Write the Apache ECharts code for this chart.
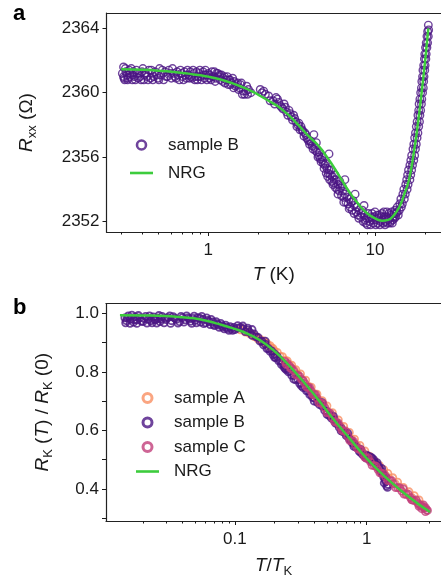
<!DOCTYPE html>
<html><head><meta charset="utf-8">
<script src="https://cdn.jsdelivr.net/npm/echarts@6/dist/echarts.min.js"></script>
<style>html,body{margin:0;padding:0;background:#fff}#c{width:441px;height:579px}</style>
</head><body><div id="c"></div>
<script>
// ---------- data (panel a) ----------
const topSampleB = [
[0.31,2361.6],[0.31,2361.0],[0.315,2360.8],[0.32,2361.3],[0.325,2361.1],[0.33,2360.9],[0.335,2361.4],[0.34,2361.2],[0.35,2360.8],[0.355,2361.3],
[0.36,2361.0],[0.37,2361.4],[0.38,2360.9],[0.385,2361.2],[0.39,2361.0],[0.4,2361.3],[0.41,2360.8],[0.42,2361.2],[0.43,2361.0],[0.44,2361.4],
[0.45,2360.9],[0.46,2361.2],[0.47,2361.0],[0.48,2361.3],[0.5,2360.9],[0.51,2361.5],[0.52,2361.1],[0.54,2360.8],[0.55,2361.3],[0.57,2361.0],
[0.58,2361.4],[0.6,2360.9],[0.62,2361.2],[0.63,2361.0],[0.65,2361.3],[0.67,2360.8],[0.69,2361.2],[0.7,2361.0],[0.72,2361.3],[0.74,2360.9],
[0.76,2361.1],[0.78,2361.3],[0.8,2360.9],[0.82,2361.2],[0.84,2361.0],[0.86,2360.8],[0.88,2361.2],[0.9,2361.0],[0.93,2361.3],[0.95,2360.9],
[0.97,2361.1],[1.0,2361.2],[1.02,2360.9],[1.05,2361.3],[1.08,2361.0],[1.1,2360.7],[1.12,2361.2],[1.15,2361.0],[1.18,2360.8],[1.2,2361.1],
[1.23,2360.9],[1.26,2360.6],[1.3,2361.0],[1.33,2360.8],[1.36,2360.5],[1.4,2360.9],[1.43,2360.7],[1.46,2360.4],[1.5,2360.6],[1.54,2360.3],
[1.58,2360.6],[1.62,2360.1],[1.65,2359.9],[1.7,2360.4],[1.74,2360.2],[1.8,2360.0],[2.05,2360.2],[2.15,2360.1],[2.3,2359.8],[2.45,2359.5],
[2.55,2359.7],[2.65,2359.4],[2.75,2359.1],[2.85,2359.3],[2.95,2358.8],[3.05,2358.9],[3.15,2358.5],[3.25,2358.6],[3.35,2358.2],[3.45,2358.0],
[3.6,2357.9],[3.7,2357.6],[3.85,2357.4],[3.95,2357.1],[4.1,2357.0],[4.3,2357.4],[4.2,2356.7],[4.35,2356.6],[4.5,2356.3],[4.6,2356.1],
[4.7,2355.9],[4.8,2356.0],[4.9,2355.6],[5.0,2355.5],[5.15,2355.3],[5.3,2356.2],[5.3,2355.2],[5.4,2354.9],[5.55,2354.8],[5.7,2354.6],
[5.85,2354.6],[6.0,2354.3],[6.2,2354.1],[6.4,2353.9],[6.6,2354.6],[6.6,2353.7],[6.8,2353.5],[7.0,2353.4],[7.2,2353.2],[7.5,2353.0],
[7.6,2353.7],[7.8,2352.9],[8.0,2352.7],[8.3,2352.5],[8.6,2353.0],[8.6,2352.4],[8.9,2352.2],[5.2,2354.8],[5.6,2354.3],[6.0,2353.7],
[6.5,2353.2],[7.0,2352.8],[7.5,2352.5],[8.0,2352.2],[8.5,2352.0],[9.0,2351.8],[9.1,2352.5],[9.3,2352.0],[9.5,2352.3],[9.8,2351.9],
[10.0,2352.6],[10.2,2352.1],[10.4,2351.9],[10.6,2352.4],[10.8,2352.0],[11.0,2352.5],[11.2,2351.9],[11.4,2352.3],[11.6,2352.0],[11.8,2352.6],
[12.0,2352.1],[12.3,2351.9],[12.5,2352.4],[12.8,2352.1],[13.0,2352.5],[13.3,2352.3],[13.6,2352.6],[13.6,2352.9],[14.4,2352.9],[14.3,2353.4],
[15.0,2353.4],[14.9,2354.0],[15.6,2354.0],[15.5,2354.6],[16.2,2354.6],[15.9,2355.2],[16.6,2355.2],[16.4,2355.8],[17.1,2355.8],[16.9,2356.5],
[17.5,2356.5],[17.3,2357.2],[17.9,2357.2],[17.7,2357.9],[18.3,2357.9],[18.1,2358.6],[18.6,2358.6],[18.4,2359.3],[19.0,2359.3],[18.8,2360.0],
[19.3,2360.0],[19.1,2360.7],[19.6,2360.7],[19.4,2361.4],[19.9,2361.4],[19.8,2362.1],[20.2,2362.1],[20.1,2362.8],[20.5,2362.8],[20.5,2363.5],
[20.9,2363.5],[20.9,2364.2],
[0.305,2361.2],[0.312,2360.9],[0.318,2361.5],[0.328,2360.8],[0.338,2361.0],[0.345,2361.5],[0.352,2361.1],[0.365,2360.8],[0.375,2361.2],[0.395,2360.8],
[0.405,2361.5],[0.415,2361.1],[0.435,2360.8],[0.455,2361.4],[0.465,2360.8],[0.49,2361.1],[0.505,2360.8],[0.53,2361.4],[0.56,2361.0],[0.59,2361.2],
[0.61,2361.5],[0.64,2360.9],[0.66,2361.1],[0.68,2361.4],[0.71,2360.8],[0.73,2361.1],[0.75,2361.4],[0.77,2360.9],[0.79,2361.0],[0.81,2361.4],
[0.83,2360.8],[0.85,2361.3],[0.87,2361.0],[0.89,2361.4],[0.91,2360.8],[0.94,2361.1],[0.96,2361.4],[0.98,2360.8],[1.01,2361.1],[1.04,2360.8],
[1.06,2361.0],[1.09,2361.3],[1.11,2360.9],[1.14,2361.2],[1.17,2361.1],[1.22,2360.7],[1.25,2361.0],[1.28,2360.8],[1.32,2360.5],[1.35,2360.8],
[1.38,2360.6],[1.42,2360.3],[1.48,2360.5],[1.52,2360.2],[1.56,2360.5],[1.6,2359.9],[1.68,2360.1],[1.72,2359.9],
[2.1,2360.0],[2.2,2359.9],[2.35,2359.5],[2.5,2359.3],[2.6,2359.6],[2.7,2359.2],[2.8,2359.0],[2.9,2359.1],[3.0,2358.6],[3.1,2358.7],
[3.2,2358.3],[3.3,2358.4],[3.4,2357.9],[3.5,2358.1],[3.55,2357.7],[3.65,2357.7],[3.75,2357.3],[3.8,2357.5],[3.9,2357.2],[4.0,2357.0],
[4.05,2356.8],[4.15,2356.9],[4.25,2356.5],[4.4,2356.4],[4.45,2356.9],[4.55,2356.0],[4.65,2356.3],[4.75,2355.7],[4.85,2355.8],[4.95,2355.3],
[5.05,2355.6],[5.1,2355.0],[5.25,2355.0],[5.35,2354.6],[5.45,2355.2],[5.5,2354.5],[5.65,2354.4],[5.75,2354.9],[5.8,2354.1],[5.95,2354.0],
[6.1,2353.9],[6.15,2354.5],[6.3,2353.6],[6.35,2354.2],[6.5,2353.5],[6.7,2353.2],[6.9,2353.1],[7.1,2352.9],[7.3,2352.7],[7.4,2353.3],
[7.7,2352.6],[7.9,2352.4],[8.2,2352.3],[8.4,2352.7],[8.7,2352.1],[8.8,2351.9],
[9.2,2352.2],[9.4,2351.8],[9.6,2352.5],[9.7,2352.1],[9.9,2352.3],[10.1,2351.8],[10.3,2352.4],[10.5,2352.2],[10.7,2351.8],[10.9,2352.3],
[11.1,2352.1],[11.3,2352.6],[11.5,2351.8],[11.7,2352.3],[11.9,2351.9],[12.1,2352.5],[12.2,2352.2],[12.4,2352.0],[12.6,2352.6],[12.7,2351.9],
[12.9,2352.3],[13.1,2352.2],[13.2,2352.7],[13.4,2352.5],[13.8,2352.4],[14.0,2352.7],[14.1,2353.1],
[14.6,2353.1],[14.7,2353.7],[15.2,2353.7],[15.3,2354.3],[15.8,2354.3],[15.7,2354.9],[16.4,2354.9],[16.2,2355.5],[16.8,2355.5],[16.6,2356.1],
[17.3,2356.1],[17.1,2356.8],[17.7,2356.8],[17.5,2357.5],[18.1,2357.5],[17.9,2358.2],[18.5,2358.2],[18.3,2358.9],[18.8,2358.9],[18.6,2359.6],
[19.1,2359.6],[19.0,2360.3],[19.5,2360.3],[19.3,2361.0],[19.7,2361.0],[19.6,2361.7],[20.0,2361.7],[19.9,2362.4],[20.3,2362.4],[20.3,2363.1],
[20.7,2363.1],[20.7,2363.8],[21.0,2363.9]
];
const topNRG = [
[0.3,2361.45],[0.4,2361.42],[0.5,2361.37],[0.6,2361.3],[0.7,2361.23],[0.8,2361.15],[0.9,2361.08],[1.0,2361.0],[1.2,2360.8],[1.4,2360.58],
[1.6,2360.35],[1.8,2360.12],[2.0,2359.87],[2.3,2359.5],[2.6,2359.17],[3.0,2358.65],[3.5,2357.95],[4.0,2357.3],[4.5,2356.8],[5.0,2356.2],
[5.6,2355.45],[6.3,2354.6],[7.0,2353.85],[8.0,2353.05],[9.0,2352.5],[10,2352.2],[11,2352.05],[12,2352.1],[13,2352.4],[14,2352.9],
[15,2353.7],[16,2354.6],[17,2356.1],[18,2357.9],[19,2359.9],[20,2362.0],[20.9,2364.0]
];
const topXMajor = [1, 10];
const topXLabels = ['1', '10'];
const topXMinor = [0.3,0.4,0.5,0.6,0.7,0.8,0.9,2,3,4,5,6,7,8,9,20];
const topYTicks = [2352, 2356, 2360, 2364];

// ---------- data (panel b) ----------
const botSampleA = [
[0.11,0.944],[0.12,0.936],[0.13,0.930],[0.14,0.921],[0.15,0.912],[0.16,0.903],[0.17,0.897],[0.18,0.888],[0.19,0.880],[0.2,0.871],
[0.22,0.854],[0.24,0.840],[0.26,0.824],[0.28,0.808],[0.3,0.793],[0.33,0.771],[0.36,0.751],[0.4,0.726],[0.44,0.702],[0.48,0.682],
[0.53,0.657],[0.58,0.636],[0.64,0.612],[0.7,0.590],[0.77,0.570],[0.85,0.547],[0.93,0.527],[1.0,0.510],[1.1,0.492],[1.2,0.475],
[1.3,0.459],[1.4,0.446],[1.5,0.434],[1.65,0.418],[1.8,0.402],[2.0,0.385],[2.2,0.371],[2.4,0.357],[2.6,0.346],
[0.115,0.947],[0.125,0.937],[0.135,0.929],[0.145,0.921],[0.155,0.912],[0.165,0.906],[0.175,0.898],[0.185,0.890],[0.195,0.880],[0.21,0.867],
[0.23,0.852],[0.25,0.838],[0.27,0.823],[0.29,0.808],[0.315,0.793],[0.345,0.772],[0.38,0.748],[0.42,0.724],[0.46,0.702],[0.5,0.684],
[0.55,0.661],[0.61,0.636],[0.67,0.614],[0.74,0.593],[0.81,0.570],[0.89,0.549],[0.97,0.530],[1.05,0.512],[1.15,0.495],[1.25,0.480],
[1.35,0.466],[1.45,0.453],[1.58,0.438],[1.72,0.423],[1.9,0.405],[2.1,0.390],[2.3,0.377],[2.5,0.362]
];
const botSampleB = [
[0.0146,0.985],[0.015,0.975],[0.0155,0.992],[0.016,0.980],[0.017,0.970],[0.0175,0.988],[0.018,0.978],[0.019,0.985],[0.02,0.972],[0.021,0.990],
[0.022,0.980],[0.023,0.975],[0.024,0.988],[0.025,0.978],[0.026,0.984],[0.027,0.972],[0.028,0.990],[0.03,0.979],[0.031,0.986],[0.033,0.975],
[0.034,0.989],[0.036,0.980],[0.038,0.972],[0.04,0.986],[0.042,0.978],[0.044,0.985],[0.046,0.973],[0.048,0.983],[0.05,0.976],[0.052,0.986],
[0.055,0.970],[0.057,0.980],[0.06,0.968],[0.062,0.976],[0.065,0.962],[0.068,0.971],[0.07,0.958],[0.073,0.965],[0.076,0.952],[0.08,0.958],
[0.083,0.947],[0.086,0.953],[0.09,0.942],[0.094,0.948],[0.1,0.945],[0.105,0.950],[0.11,0.952],[0.115,0.948],[0.12,0.938],[0.125,0.944],
[0.13,0.935],[0.14,0.930],[0.15,0.918],[0.16,0.905],[0.17,0.895],[0.18,0.880],[0.19,0.872],[0.2,0.862],[0.21,0.852],[0.22,0.840],
[0.23,0.830],[0.24,0.822],[0.25,0.812],[0.26,0.803],[0.28,0.788],[0.3,0.775],[0.32,0.762],[0.34,0.748],[0.36,0.735],[0.38,0.722],
[0.4,0.712],[0.43,0.698],[0.46,0.683],[0.5,0.665],[0.53,0.652],[0.56,0.638],[0.6,0.622],[0.64,0.608],[0.68,0.594],[0.72,0.580],
[0.76,0.565],[0.8,0.555],[0.85,0.540],[0.9,0.525],[0.95,0.515],[1.0,0.505],[1.05,0.500],[1.1,0.495],[1.15,0.488],[1.2,0.478],
[1.25,0.470],[1.3,0.455],[1.35,0.440],[1.4,0.425],[1.45,0.415],[0.17,0.905],[0.2,0.850],[0.24,0.812],[0.28,0.775],[0.32,0.752],
[0.36,0.745],[0.4,0.700],[0.46,0.695],[0.5,0.655],[0.56,0.648],[0.64,0.598],[0.72,0.590],[0.8,0.545],[0.9,0.535],[1.0,0.515],
[1.1,0.505],[1.2,0.490],[1.3,0.470],[1.4,0.440],[1.42,0.410],
[0.0148,0.968],[0.0152,0.985],[0.016,0.966],[0.0165,0.994],[0.0172,0.978],[0.018,0.966],[0.0185,0.993],[0.0195,0.974],[0.0205,0.982],[0.0215,0.967],
[0.0225,0.992],[0.0235,0.968],[0.0245,0.980],[0.0255,0.967],[0.0265,0.993],[0.0275,0.980],[0.029,0.968],[0.0295,0.984],[0.032,0.992],[0.0325,0.966],
[0.035,0.983],[0.037,0.967],[0.039,0.990],[0.041,0.970],[0.043,0.992],[0.045,0.981],[0.047,0.966],[0.049,0.991],[0.051,0.968],[0.054,0.984],
[0.056,0.990],[0.058,0.965],[0.061,0.985],[0.064,0.972],[0.066,0.980],[0.069,0.962],[0.072,0.972],[0.075,0.960],[0.078,0.966],[0.081,0.953],
[0.085,0.960],[0.088,0.948],[0.092,0.955],[0.096,0.942],[0.098,0.952],
[0.135,0.925],[0.145,0.920],[0.155,0.905],[0.165,0.892],[0.175,0.880],[0.185,0.870],[0.195,0.858],[0.205,0.848],[0.215,0.838],[0.225,0.826],
[0.235,0.818],[0.245,0.808],[0.255,0.800],[0.27,0.788],[0.29,0.773],[0.31,0.760],[0.33,0.746],[0.35,0.735],[0.37,0.722],[0.39,0.712],
[0.42,0.697],[0.44,0.688],[0.48,0.668],[0.52,0.650],[0.54,0.642],[0.58,0.625],[0.62,0.610],[0.66,0.596],[0.7,0.582],[0.74,0.570],
[0.78,0.556],[0.83,0.543],[0.88,0.528],[0.93,0.518],[0.98,0.508],[1.03,0.512],[1.08,0.508],[1.13,0.500],[1.18,0.485],[1.23,0.478],
[1.28,0.462],[1.33,0.450],[1.38,0.432],[1.44,0.405],[1.36,0.420],
[0.105,0.958],[0.115,0.957],[0.125,0.950],[0.135,0.945]
];
const botSampleC = [
[0.24,0.836],[0.25,0.829],[0.26,0.820],[0.27,0.812],[0.28,0.804],[0.3,0.789],[0.32,0.774],[0.34,0.760],[0.36,0.747],[0.38,0.734],
[0.4,0.722],[0.42,0.710],[0.45,0.693],[0.48,0.678],[0.51,0.662],[0.55,0.643],[0.59,0.627],[0.63,0.612],[0.67,0.597],[0.72,0.580],
[0.77,0.565],[0.82,0.551],[0.88,0.536],[0.94,0.520],[1.0,0.504],[1.07,0.492],[1.14,0.479],[1.22,0.466],[1.3,0.453],[1.4,0.440],
[1.5,0.428],[1.6,0.418],[1.72,0.404],[1.85,0.392],[2.0,0.380],[2.15,0.370],[2.3,0.360],[2.45,0.350],[2.6,0.342],[2.75,0.334],
[2.85,0.328],[2.5,0.340],[2.7,0.345],[2.2,0.362],[1.9,0.400],[2.8,0.322],
[0.245,0.826],[0.265,0.812],[0.29,0.790],[0.31,0.785],[0.33,0.770],[0.35,0.748],[0.37,0.746],[0.39,0.722],[0.41,0.722],[0.435,0.695],
[0.465,0.692],[0.5,0.660],[0.53,0.658],[0.57,0.630],[0.61,0.625],[0.65,0.600],[0.69,0.598],[0.745,0.565],[0.795,0.562],[0.85,0.538],
[0.91,0.532],[0.97,0.508],[1.03,0.506],[1.1,0.480],[1.18,0.478],[1.26,0.455],[1.35,0.452],[1.45,0.428],[1.55,0.428],[1.66,0.404],
[1.78,0.404],[1.92,0.382],[2.07,0.382],[2.22,0.362],[2.38,0.362],[2.52,0.345],[2.68,0.338],[2.8,0.336],[2.9,0.326],[2.62,0.332]
];
const botNRG = [
[0.0134,0.994],[0.02,0.993],[0.03,0.991],[0.04,0.987],[0.054,0.98],[0.072,0.966],[0.097,0.949],[0.13,0.927],[0.174,0.893],[0.233,0.842],
[0.312,0.78],[0.417,0.712],[0.558,0.639],[0.747,0.571],[1.0,0.504],[1.34,0.447],[1.79,0.397],[2.4,0.352],[3.03,0.321]
];
const botXMajor = [0.1, 1];
const botXLabels = ['0.1', '1'];
const botXMinor = [0.02,0.03,0.04,0.05,0.06,0.07,0.08,0.09,0.2,0.3,0.4,0.5,0.6,0.7,0.8,0.9,2,3];
const botYLabels = [0.4, 0.6, 0.8, 1.0];
const botYTicks = [0.3, 0.4, 0.5, 0.6, 0.7, 0.8, 0.9, 1.0];

// ---------- style ----------
const FONT = "'Liberation Sans', Arial, sans-serif";
const INK = '#1a1a1a';
const FRAME = { show: true, onZero: false, lineStyle: { color: '#222', width: 1.2 } };
const C_A = '#F98E62', C_B = '#4B1583', C_C = '#C23F7A', C_NRG = '#3DCC3D';
const TOP_X = [0.245, 24.9], TOP_Y = [2351.35, 2364.95];
const BOT_X = [0.0105, 3.67], BOT_Y = [0.29, 1.034];
const LINE_ICON = 'path://M0,0L23,0L23,2.6L0,2.6Z';

const L = Math.log10;
function fmtFrom(vals, labels) {
  return v => { const i = vals.findIndex(t => Math.abs(L(t) - v) < 1e-6); return i >= 0 ? labels[i] : ''; };
}
const nameRich = {
  i: { fontStyle: 'italic', fontSize: 19, fontFamily: FONT, color: INK, lineHeight: 24 },
  s: { fontSize: 13, fontFamily: FONT, color: INK, verticalAlign: 'bottom', lineHeight: 13 }
};
const nameStyle = { fontSize: 19, fontFamily: FONT, color: INK, lineHeight: 24, rich: nameRich };
const lblStyle = { fontSize: 17, fontFamily: FONT, color: INK };

function dataX(grid, ext) {
  return { type: 'log', gridIndex: grid, min: ext[0], max: ext[1], logBase: 10, show: false, position: 'bottom' };
}
function decoX(grid, ext, major, labels, name, gap) {
  return { type: 'value', gridIndex: grid, position: 'bottom', min: L(ext[0]), max: L(ext[1]),
    axisLine: FRAME, splitLine: { show: false },
    axisTick: { show: true, length: 4, customValues: major.map(L), lineStyle: { color: INK, width: 1 } },
    axisLabel: { show: true, customValues: major.map(L), formatter: fmtFrom(major, labels), margin: 10, ...lblStyle },
    name: name, nameLocation: 'middle', nameGap: gap, nameTextStyle: nameStyle };
}
function minorX(grid, ext, minor) {
  return { type: 'value', gridIndex: grid, position: 'bottom', min: L(ext[0]), max: L(ext[1]),
    axisLine: { show: false, onZero: false }, splitLine: { show: false },
    axisTick: { show: true, length: 2.5, customValues: minor.map(L), lineStyle: { color: INK, width: 1 } },
    axisLabel: { show: false } };
}
function topFrame(grid) {
  return { type: 'value', gridIndex: grid, position: 'top', min: 0, max: 1,
    axisLine: FRAME, axisTick: { show: false }, axisLabel: { show: false }, splitLine: { show: false } };
}
const legendText = { fontSize: 17, fontFamily: FONT, color: INK, lineHeight: 20, padding: [0, 0, 0, 10] };

const chart = echarts.init(document.getElementById('c'), null, { renderer: 'canvas' });
chart.setOption({
  animation: false,
  backgroundColor: '#fff',
  grid: [
    { left: 106.5, top: 13, width: 335, height: 219 },
    { left: 106, top: 303.5, width: 336, height: 220 }
  ],
  xAxis: [
    dataX(0, TOP_X),
    decoX(0, TOP_X, topXMajor, topXLabels, '{i|T} (K)', 31),
    minorX(0, TOP_X, topXMinor),
    topFrame(0),
    dataX(1, BOT_X),
    decoX(1, BOT_X, botXMajor, botXLabels, '{i|T}/{i|T}{s|K}', 33),
    minorX(1, BOT_X, botXMinor),
    topFrame(1)
  ],
  yAxis: [
    { type: 'value', gridIndex: 0, min: TOP_Y[0], max: TOP_Y[1],
      axisLine: FRAME, splitLine: { show: false },
      axisTick: { show: true, length: 4, customValues: topYTicks, lineStyle: { color: INK } },
      axisLabel: { customValues: topYTicks, margin: 7, formatter: v => String(v), ...lblStyle },
      name: '{i|R}{s|xx} (Ω)', nameLocation: 'middle', nameGap: 68, nameTextStyle: nameStyle },
    { type: 'value', gridIndex: 1, min: BOT_Y[0], max: BOT_Y[1],
      axisLine: FRAME, splitLine: { show: false },
      axisTick: { show: true, length: 4, customValues: botYTicks, lineStyle: { color: INK } },
      axisLabel: { customValues: botYLabels, margin: 7, formatter: v => v.toFixed(1), ...lblStyle },
      name: '{i|R}{s|K} ({i|T}) / {i|R}{s|K} (0)', nameLocation: 'middle', nameGap: 51, nameTextStyle: nameStyle }
  ],
  legend: [
    { orient: 'vertical', left: 130, top: 135, padding: 0, itemWidth: 23, itemHeight: 9, itemGap: 8, textStyle: legendText,
      data: [
        { name: 'sample B', icon: 'circle', itemStyle: { color: '#fff', borderColor: C_B, borderWidth: 2.6 } },
        { name: 'NRG', icon: LINE_ICON, itemStyle: { color: C_NRG, borderWidth: 0 } }
      ] },
    { orient: 'vertical', left: 136, top: 388, padding: 0, itemWidth: 23, itemHeight: 9, itemGap: 4.5, textStyle: legendText,
      data: [
        { name: 'sample A', icon: 'circle', itemStyle: { color: '#fff', borderColor: C_A, borderWidth: 3 } },
        { name: 'sample B', icon: 'circle', itemStyle: { color: '#fff', borderColor: C_B, borderWidth: 3 } },
        { name: 'sample C', icon: 'circle', itemStyle: { color: '#fff', borderColor: C_C, borderWidth: 3 } },
        { name: 'NRG', icon: LINE_ICON, itemStyle: { color: C_NRG, borderWidth: 0 } }
      ] }
  ],
  graphic: [
    { type: 'text', left: 13, top: 3, style: { text: 'a', font: 'bold 22px ' + FONT, fill: '#000' } },
    { type: 'text', left: 13, top: 297, style: { text: 'b', font: 'bold 22px ' + FONT, fill: '#000' } }
  ],
  series: [
    { name: 'sample B', type: 'scatter', xAxisIndex: 0, yAxisIndex: 0, data: topSampleB, symbol: 'circle', symbolSize: 7.5,
      itemStyle: { color: 'transparent', borderColor: C_B, borderWidth: 1.4 } },
    { name: 'NRG', type: 'line', xAxisIndex: 0, yAxisIndex: 0, data: topNRG, smooth: true, symbol: 'none',
      lineStyle: { color: C_NRG, width: 2.5 }, itemStyle: { color: C_NRG }, z: 5 },
    { name: 'sample A', type: 'scatter', xAxisIndex: 4, yAxisIndex: 1, data: botSampleA, symbol: 'circle', symbolSize: 7,
      itemStyle: { color: 'transparent', borderColor: C_A, borderWidth: 1.8 } },
    { name: 'sample B', type: 'scatter', xAxisIndex: 4, yAxisIndex: 1, data: botSampleB, symbol: 'circle', symbolSize: 7,
      itemStyle: { color: 'transparent', borderColor: C_B, borderWidth: 1.8 } },
    { name: 'sample C', type: 'scatter', xAxisIndex: 4, yAxisIndex: 1, data: botSampleC, symbol: 'circle', symbolSize: 7,
      itemStyle: { color: 'transparent', borderColor: C_C, borderWidth: 1.8 } },
    { name: 'NRG', type: 'line', xAxisIndex: 4, yAxisIndex: 1, data: botNRG, smooth: true, symbol: 'none',
      lineStyle: { color: C_NRG, width: 2.5 }, itemStyle: { color: C_NRG }, z: 5 }
  ]
});
</script></body></html>
